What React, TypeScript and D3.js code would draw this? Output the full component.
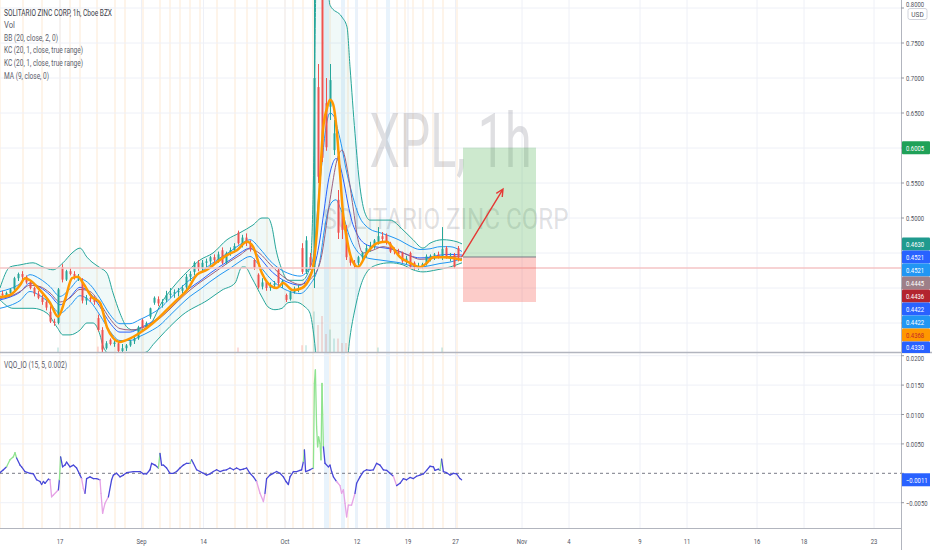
import { useEffect, useRef } from "react";
import * as d3 from "d3";

const W = 932;
const H = 550;
const AXIS_X = 901;
const PRICE_BOTTOM = 352;
const OSC_TOP = 353;
const OSC_BOTTOM = 528;
const FONT = "Roboto, 'Open Sans', sans-serif";

// one unit on the time scale = one hourly bar
// [bar, open, high, low, close]
const candles: [number, number, number, number, number][] = [
  [1, 0.392, 0.396, 0.388, 0.39], [3, 0.39, 0.395, 0.387, 0.393], [5, 0.393, 0.4, 0.39, 0.398],
  [7, 0.398, 0.416, 0.396, 0.414], [9, 0.414, 0.422, 0.41, 0.42], [11, 0.42, 0.424, 0.412, 0.416],
  [13, 0.416, 0.418, 0.406, 0.408], [15, 0.408, 0.41, 0.398, 0.4], [17, 0.4, 0.402, 0.388, 0.392],
  [19, 0.392, 0.396, 0.384, 0.386], [21, 0.386, 0.39, 0.376, 0.38], [23, 0.38, 0.382, 0.368, 0.372],
  [25, 0.366, 0.374, 0.35, 0.352], [27, 0.352, 0.356, 0.346, 0.35], [29, 0.35, 0.4, 0.348, 0.398],
  [31, 0.43, 0.434, 0.408, 0.412], [33, 0.412, 0.426, 0.41, 0.424], [35, 0.424, 0.428, 0.418, 0.42],
  [37, 0.42, 0.424, 0.412, 0.416], [39, 0.414, 0.42, 0.41, 0.414], [41, 0.409, 0.414, 0.378, 0.382],
  [43, 0.382, 0.39, 0.376, 0.386], [45, 0.386, 0.39, 0.38, 0.384], [47, 0.384, 0.388, 0.376, 0.38],
  [49, 0.357, 0.362, 0.338, 0.34], [51, 0.34, 0.344, 0.305, 0.312], [53, 0.314, 0.324, 0.312, 0.321],
  [55, 0.326, 0.328, 0.318, 0.32], [57, 0.32, 0.326, 0.316, 0.322], [59, 0.321, 0.324, 0.308, 0.31],
  [61, 0.31, 0.32, 0.306, 0.314], [63, 0.314, 0.32, 0.31, 0.318], [65, 0.318, 0.326, 0.316, 0.324],
  [67, 0.324, 0.33, 0.32, 0.328], [69, 0.328, 0.346, 0.326, 0.344], [71, 0.354, 0.356, 0.342, 0.344],
  [73, 0.344, 0.352, 0.342, 0.35], [75, 0.359, 0.372, 0.356, 0.371], [77, 0.379, 0.388, 0.376, 0.386],
  [79, 0.384, 0.388, 0.374, 0.378], [81, 0.378, 0.384, 0.372, 0.38], [83, 0.383, 0.396, 0.38, 0.39],
  [85, 0.39, 0.4, 0.386, 0.392], [87, 0.392, 0.398, 0.386, 0.394], [89, 0.394, 0.4, 0.388, 0.396],
  [91, 0.396, 0.404, 0.392, 0.4], [93, 0.401, 0.42, 0.398, 0.416], [95, 0.416, 0.424, 0.41, 0.42],
  [97, 0.423, 0.438, 0.418, 0.436], [99, 0.436, 0.44, 0.424, 0.428], [101, 0.428, 0.44, 0.424, 0.436],
  [103, 0.436, 0.442, 0.43, 0.438], [105, 0.438, 0.446, 0.432, 0.444], [107, 0.444, 0.448, 0.436, 0.44],
  [109, 0.44, 0.452, 0.436, 0.448], [111, 0.454, 0.458, 0.434, 0.436], [113, 0.436, 0.452, 0.434, 0.45],
  [115, 0.45, 0.458, 0.446, 0.454], [117, 0.454, 0.464, 0.45, 0.46], [119, 0.479, 0.482, 0.462, 0.464],
  [121, 0.462, 0.476, 0.458, 0.472], [123, 0.472, 0.478, 0.46, 0.464], [125, 0.464, 0.468, 0.452, 0.456],
  [127, 0.44, 0.442, 0.426, 0.429], [129, 0.419, 0.421, 0.399, 0.401], [131, 0.402, 0.414, 0.398, 0.408],
  [133, 0.409, 0.41, 0.396, 0.4], [135, 0.4, 0.408, 0.396, 0.404], [137, 0.404, 0.41, 0.4, 0.406],
  [139, 0.426, 0.428, 0.404, 0.407], [141, 0.407, 0.412, 0.4, 0.41], [143, 0.39, 0.392, 0.38, 0.383],
  [145, 0.384, 0.396, 0.382, 0.394], [147, 0.394, 0.402, 0.392, 0.398], [149, 0.398, 0.404, 0.394, 0.4],
  [151, 0.457, 0.464, 0.42, 0.423], [153, 0.423, 0.474, 0.42, 0.468], [155, 0.444, 0.45, 0.426, 0.432],
  [157, 0.43, 0.86, 0.4, 0.7], [159, 0.687, 0.72, 0.55, 0.559], [161, 0.82, 0.86, 0.58, 0.586],
  [163, 0.664, 0.7, 0.596, 0.601], [165, 0.659, 0.72, 0.64, 0.697], [167, 0.597, 0.64, 0.59, 0.621],
  [169, 0.526, 0.54, 0.47, 0.479], [171, 0.507, 0.52, 0.47, 0.483], [173, 0.479, 0.49, 0.44, 0.444],
  [175, 0.444, 0.45, 0.432, 0.436], [177, 0.436, 0.44, 0.428, 0.432], [179, 0.436, 0.446, 0.432, 0.444],
  [181, 0.444, 0.452, 0.44, 0.45], [183, 0.448, 0.462, 0.444, 0.457], [185, 0.457, 0.466, 0.452, 0.46],
  [187, 0.459, 0.47, 0.456, 0.468], [189, 0.466, 0.487, 0.462, 0.474], [191, 0.474, 0.48, 0.466, 0.47],
  [193, 0.476, 0.478, 0.462, 0.466], [195, 0.464, 0.466, 0.45, 0.452], [197, 0.454, 0.458, 0.448, 0.452],
  [199, 0.452, 0.456, 0.446, 0.448], [201, 0.45, 0.452, 0.436, 0.438], [203, 0.438, 0.446, 0.434, 0.442],
  [205, 0.45, 0.452, 0.428, 0.43], [207, 0.436, 0.438, 0.426, 0.43], [209, 0.43, 0.436, 0.426, 0.432],
  [211, 0.432, 0.436, 0.428, 0.434], [213, 0.434, 0.448, 0.432, 0.445], [215, 0.443, 0.448, 0.438, 0.446],
  [217, 0.446, 0.45, 0.44, 0.448], [219, 0.448, 0.452, 0.442, 0.446], [221, 0.443, 0.487, 0.44, 0.456],
  [223, 0.457, 0.46, 0.442, 0.443], [225, 0.443, 0.45, 0.438, 0.446], [227, 0.447, 0.45, 0.428, 0.43],
  [229, 0.457, 0.46, 0.438, 0.4436],
];

// [bar, volume (relative), direction]
const volume: [number, number, number][] = [
  [29, 1, 1], [49, 1.2, -1], [51, 1.5, -1], [119, 1, -1], [151, 1.5, -1], [153, 1.5, 1],
  [157, 9, 1], [159, 6, -1], [161, 8, -1], [163, 4, -1], [165, 5, 1], [167, 3, 1],
  [169, 3, -1], [171, 2, -1], [173, 2, -1], [189, 1, 1], [221, 1, 1],
];

const ma9: [number, number][] = [
  [0, 0.387], [5, 0.39], [10, 0.404], [12.5, 0.414], [15, 0.411], [20, 0.397], [25, 0.379], [29, 0.359],
  [32.5, 0.383], [36, 0.414], [39, 0.416], [41.5, 0.407], [46, 0.387], [50, 0.379], [53.5, 0.344],
  [56.5, 0.329], [60, 0.323], [63.5, 0.326], [70, 0.336], [76.5, 0.35], [83.5, 0.369], [88.5, 0.383],
  [93.5, 0.397], [98.5, 0.419], [103.5, 0.426], [108.5, 0.437], [113.5, 0.447], [118.5, 0.454],
  [123.5, 0.466], [126.5, 0.459], [131, 0.421], [135, 0.404], [138.5, 0.4], [141.5, 0.407],
  [146.5, 0.397], [151, 0.4], [155, 0.416], [156.5, 0.43], [158.5, 0.483], [160, 0.554], [161.5, 0.626],
  [163.5, 0.657], [165, 0.669], [166.5, 0.663], [168.5, 0.621], [170, 0.564], [171.5, 0.507],
  [173.5, 0.469], [176, 0.44], [179, 0.43], [183.5, 0.45], [188.5, 0.464], [193.5, 0.466], [196, 0.459],
  [200, 0.444], [205, 0.436], [210, 0.43], [213.5, 0.436], [216.5, 0.444], [221.5, 0.444], [226.5, 0.443],
  [231, 0.44],
];

const bbUpper: [number, number][] = [
  [0, 0.4], [5, 0.43], [10, 0.433], [16.5, 0.436], [21.5, 0.43], [26.5, 0.426], [31.5, 0.436], [36, 0.45],
  [40, 0.457], [43.5, 0.444], [46, 0.437], [50, 0.429], [53.5, 0.421], [56.5, 0.393], [60, 0.364],
  [63.5, 0.344], [66.5, 0.34], [70, 0.34], [73.5, 0.344], [76.5, 0.354], [80, 0.375], [86.5, 0.401],
  [93.5, 0.423], [100, 0.44], [106.5, 0.45], [113.5, 0.469], [120, 0.479], [126.5, 0.49], [131, 0.5],
  [134, 0.5], [136, 0.487], [138, 0.455], [141, 0.426], [144, 0.411], [151, 0.411], [155, 0.43],
  [157, 0.6], [158, 0.83], [163, 0.86], [165, 0.804], [171, 0.787], [173.5, 0.773], [175, 0.716],
  [177.5, 0.621], [180, 0.544], [182.5, 0.507], [185, 0.497], [195, 0.497], [201.5, 0.483],
  [206.5, 0.469], [211.5, 0.457], [215, 0.464], [221.5, 0.469], [228.5, 0.466], [231, 0.463],
];

const bbLower: [number, number][] = [
  [0, 0.383], [6.5, 0.371], [16.5, 0.371], [23.5, 0.364], [28.5, 0.344], [31.5, 0.333], [35, 0.333],
  [40, 0.34], [43.5, 0.35], [46.5, 0.35], [50, 0.333], [51.5, 0.317], [55, 0.305], [65, 0.303],
  [73.5, 0.309], [76.5, 0.319], [80, 0.33], [85, 0.345], [91, 0.361], [104, 0.383], [111, 0.397],
  [117.5, 0.407], [121, 0.43], [122.5, 0.43], [126, 0.414], [131, 0.387], [134, 0.373], [137.5, 0.369],
  [141, 0.371], [144, 0.379], [147.5, 0.38], [152.5, 0.373], [155, 0.364], [157, 0.33], [158.5, 0.29],
  [165, 0.2], [172, 0.25], [175, 0.33], [177.5, 0.37], [180, 0.4], [183.5, 0.423], [188.5, 0.433],
  [195, 0.436], [201.5, 0.433], [206.5, 0.426], [211.5, 0.423], [218.5, 0.426], [225, 0.43], [231, 0.436],
];

const bbBasis: [number, number][] = [
  [0, 0.385], [5, 0.388], [10, 0.395], [15, 0.404], [20, 0.402], [25, 0.393], [30, 0.38], [35, 0.386],
  [40, 0.398], [45, 0.395], [50, 0.378], [55, 0.356], [60, 0.342], [65, 0.34], [70, 0.342], [75, 0.348],
  [80, 0.357], [85, 0.37], [90, 0.384], [95, 0.397], [100, 0.408], [105, 0.418], [110, 0.428],
  [115, 0.438], [120, 0.447], [125, 0.456], [130, 0.449], [135, 0.434], [140, 0.42], [145, 0.41],
  [150, 0.405], [155, 0.412], [160, 0.436], [165, 0.526], [168.5, 0.583], [171, 0.597], [174, 0.564],
  [176.5, 0.516], [179, 0.469], [181.5, 0.45], [186.5, 0.454], [191.5, 0.459], [196, 0.456], [200, 0.452],
  [205, 0.446], [210, 0.441], [215, 0.442], [220, 0.444], [225, 0.445], [231, 0.4445],
];

const kcMid: [number, number][] = [
  [0, 0.383], [5, 0.387], [10, 0.394], [15, 0.407], [20, 0.401], [25, 0.39], [30, 0.376], [35, 0.387],
  [40, 0.401], [45, 0.393], [50, 0.373], [55, 0.35], [60, 0.337], [65, 0.337], [70, 0.343], [75, 0.35],
  [80, 0.359], [85, 0.373], [90, 0.387], [95, 0.4], [100, 0.41], [105, 0.421], [110, 0.431], [115, 0.44],
  [120, 0.45], [125, 0.457], [130, 0.443], [135, 0.426], [140, 0.414], [145, 0.407], [150, 0.404],
  [155, 0.42], [158, 0.44], [160, 0.47], [162, 0.51], [164, 0.55], [166, 0.575], [168, 0.585],
  [170, 0.575], [172, 0.55], [174, 0.52], [176, 0.495], [178, 0.48], [180, 0.47], [182.5, 0.463],
  [185, 0.46], [190, 0.458], [195, 0.456], [200, 0.452], [205, 0.446], [210, 0.443], [215, 0.444],
  [220, 0.447], [225, 0.448], [231, 0.447],
];

const kcUpper: [number, number][] = [
  [0, 0.395], [5, 0.399], [10, 0.406], [15, 0.419], [20, 0.413], [25, 0.402], [30, 0.388], [35, 0.399],
  [40, 0.413], [45, 0.405], [50, 0.385], [55, 0.362], [60, 0.349], [65, 0.349], [70, 0.355], [75, 0.362],
  [80, 0.371], [85, 0.385], [90, 0.399], [95, 0.412], [100, 0.422], [105, 0.433], [110, 0.443],
  [115, 0.452], [120, 0.462], [125, 0.469], [130, 0.456], [135, 0.439], [140, 0.427], [145, 0.42],
  [150, 0.417], [155, 0.43], [157, 0.45], [159, 0.52], [161, 0.58], [163, 0.63], [165, 0.65],
  [167, 0.645], [169, 0.625], [171, 0.6], [173, 0.57], [176, 0.535], [178, 0.515], [180, 0.5],
  [182.5, 0.49], [185, 0.484], [190, 0.479], [195, 0.474], [200, 0.468], [205, 0.46], [210, 0.455],
  [215, 0.456], [220, 0.459], [225, 0.459], [231, 0.4521],
];

const kcLower: [number, number][] = [
  [0, 0.371], [5, 0.375], [10, 0.382], [15, 0.395], [20, 0.389], [25, 0.378], [30, 0.364], [35, 0.375],
  [40, 0.389], [45, 0.381], [50, 0.361], [55, 0.338], [60, 0.325], [65, 0.325], [70, 0.331], [75, 0.338],
  [80, 0.347], [85, 0.361], [90, 0.375], [95, 0.388], [100, 0.398], [105, 0.409], [110, 0.419],
  [115, 0.428], [120, 0.438], [125, 0.445], [130, 0.431], [135, 0.414], [140, 0.402], [145, 0.395],
  [150, 0.392], [155, 0.405], [158, 0.42], [160, 0.44], [162, 0.48], [164, 0.51], [166, 0.523],
  [168, 0.526], [170, 0.515], [172, 0.5], [174, 0.48], [176, 0.465], [178, 0.455], [180, 0.448],
  [182.5, 0.444], [185, 0.442], [190, 0.44], [195, 0.438], [200, 0.436], [205, 0.432], [210, 0.43],
  [215, 0.432], [220, 0.435], [225, 0.437], [231, 0.4422],
];

// VQO_IO oscillator
const vqo: [number, number][] = [
  [0, 0.0001], [1.7, 0.0006], [3.3, 0.0011], [5, 0.0023], [6.7, 0.0028], [7.5, 0.0035], [8.3, 0.0026],
  [10, 0.0014], [10.8, 0.0011], [12.5, 0.0003], [15, 0], [16.7, -0.0001], [18.3, -0.0011], [20, -0.0014],
  [20.8, -0.0019], [21.7, -0.0014], [22.5, -0.0017], [24.2, -0.001], [25, -0.0011], [25.8, -0.004],
  [26.7, -0.0037], [29.2, -0.0028], [29.7, -0.0011], [30.3, 0.0028], [31.3, 0.0011], [32.5, 0.0014],
  [33.3, 0.0019], [35, 0.0011], [36.7, 0.0014], [38.3, 0.0009], [40, -0.0003], [40.8, -0.0009],
  [41.7, -0.0026], [42.5, -0.0034], [43.3, -0.0009], [45, -0.0006], [46.7, -0.0009], [48.3, -0.0009],
  [50, -0.0011], [50.5, -0.0034], [51.3, -0.0068], [52.5, -0.0051], [54.2, -0.004], [55.8, -0.0011],
  [56.7, -0.0003], [58.3, 0], [60, -0.0006], [61.7, -0.0003], [63.3, 0.0001], [66.7, 0.0003], [70, 0.0003],
  [71.7, -0.0001], [73.3, -0.0001], [75, 0.0006], [75.8, 0.0017], [77.5, 0.0014], [79.2, 0.0009],
  [80, 0.0034], [80.8, 0.0014], [81.7, 0.0014], [83.3, 0.0009], [85, 0], [86.7, 0], [88.3, 0.0003],
  [90, 0.0009], [91.7, 0.0014], [93.3, 0.0017], [95, 0.0017], [95.8, 0.0023], [96.7, 0.0017],
  [98.3, 0.0006], [100, 0.0003], [101.7, 0], [103.3, -0.0003], [105, -0.0001], [106.7, 0.0003],
  [108.3, 0.0006], [110, 0.0003], [111.7, 0.0005], [113.3, 0.0006], [115, 0.0009], [116.7, 0.0006],
  [118.3, 0.0009], [120, 0.0006], [121.7, 0.0007], [123.3, 0.0009], [125, 0], [126.7, -0.0006],
  [128.3, -0.0014], [130, -0.0034], [131.7, -0.0048], [132.5, -0.0034], [133.3, -0.0009], [135, -0.0003],
  [136.7, 0], [138.3, 0.0003], [140, 0], [141.7, -0.0006], [143, -0.0014], [144.2, -0.0019], [145, -0.0006],
  [146.7, 0.0003], [148.3, 0.0003], [150, 0.0005], [150.8, 0.0006], [151.7, 0.002], [152.2, 0.004],
  [152.8, 0.0003], [155, 0.0006], [156.7, 0.0009], [157.2, 0.0153], [157.7, 0.0176], [158.3, 0.0079],
  [158.8, 0.0045], [159.3, 0.0062], [160, 0.0051], [160.5, 0.0023], [161, 0.0153], [161.7, 0.0045],
  [162.5, 0.0017], [164.2, 0.0011], [165, 0.0014], [165.8, 0.0003], [166.7, -0.0006], [168.3, -0.0014],
  [170, -0.0021], [170.8, -0.0034], [171.7, -0.0028], [172.5, -0.0051], [173.3, -0.0074], [174.2, -0.0054],
  [175.8, -0.0054], [177.5, -0.0034], [178.3, -0.0017], [180, -0.0006], [181.7, 0.0003], [183.3, 0.0006],
  [185, 0.0005], [186.7, 0.0006], [188.3, 0.0017], [190, 0.0014], [191.7, 0.0006], [193.3, 0.0005],
  [195, 0], [196.7, -0.0005], [198.3, -0.0021], [200, -0.0017], [201.7, -0.0009], [203.3, -0.0011],
  [205, -0.0007], [206.7, -0.0009], [208.3, -0.0005], [210, -0.0003], [211.7, -0.0001], [213.3, 0.0005],
  [215, 0.0012], [216.7, 0.0011], [217.5, 0.0005], [219.2, 0.0007], [220, 0.0005], [220.8, 0.0024],
  [221.7, 0.0003], [223.3, 0.0001], [225, -0.0003], [226.7, 0], [228.3, -0.0001], [230, -0.0009],
  [230.8, -0.0011],
];
const VQO_THRESHOLD = 0.002;

// extended-hours shading and indicator highlight bands
const sessionBars = [
  0, 11.5, 21, 30, 35, 40, 48.5, 57.5, 62.5, 71.5, 80, 85, 90, 95, 100, 108.5, 117.5, 123.5, 128.5, 133.5,
  142.5, 146.5, 151.5, 156.5, 165, 174, 183.5, 188.5, 198.5, 202.5, 206.5, 211.5, 216.5, 221.5, 228.5,
];
const highlightBars: [number, number][] = [[162, 164.5], [170.5, 172.5], [177.5, 179], [193, 195]];

const timeTicks: [string, number][] = [
  ["17", 30], ["Sep", 70.75], ["14", 101.75], ["Oct", 142.5], ["12", 178.5], ["19", 204], ["27", 227.75],
  ["Nov", 261], ["4", 284.5], ["9", 320], ["11", 343.5], ["16", 378.5], ["18", 402], ["23", 437],
];
const priceTicks = [0.35, 0.4, 0.45, 0.5, 0.55, 0.6, 0.65, 0.7, 0.75, 0.8];
const oscTicks = [-0.005, 0, 0.005, 0.01, 0.015, 0.02];

// price-scale tags: [value, background, text colour]
const priceTags: [number, string, string][] = [
  [0.6005, "#20a158", "#ffffff"],
  [0.463, "#1f9a8e", "#ffffff"],
  [0.4521, "#2962ff", "#ffffff"],
  [0.4521, "#2196f3", "#ffffff"],
  [0.4445, "#9d7f88", "#ffffff"],
  [0.4436, "#b3242e", "#ffffff"],
  [0.4422, "#2962ff", "#ffffff"],
  [0.4422, "#2196f3", "#ffffff"],
  [0.4368, "#ff9800", "#c62828"],
  [0.433, "#2962ff", "#ffffff"],
];
const oscTag: [number, string] = [-0.0011, "#2962ff"];

const alertPrice = 0.4286;
const position = { startBar: 231.5, endBar: 268, entry: 0.4443, target: 0.6005, stop: 0.38 };
const arrow = { fromBar: 230.85, fromPrice: 0.4443, toBar: 251.5, toPrice: 0.5414 };

const legendLines: [string, number][] = [
  ["SOLITARIO ZINC CORP, 1h, Cboe BZX", 108],
  ["Vol", 11],
  ["BB (20, close, 2, 0)", 54],
  ["KC (20, 1, close, true range)", 79],
  ["KC (20, 1, close, true range)", 79],
  ["MA (9, close, 0)", 45],
];

const TAG_H = 13;

export default function App() {
  const ref = useRef<SVGSVGElement>(null);

  useEffect(() => {
    if (!ref.current) return;
    const svg = d3.select(ref.current);
    svg.selectAll("*").remove();

    const x = d3.scaleLinear().domain([0, 450.5]).range([0, AXIS_X]);
    const yP = d3.scaleLinear().domain([0.3, 0.8]).range([358, 8]);
    const yO = d3.scaleLinear().domain([0, 0.005]).range([473.3, 443.9]);
    const yV = d3.scaleLinear().domain([0, 10]).range([PRICE_BOTTOM, PRICE_BOTTOM - 45]);

    const defs = svg.append("defs");
    defs.append("clipPath").attr("id", "clip-price").append("rect")
      .attr("x", 0).attr("y", 0).attr("width", AXIS_X).attr("height", PRICE_BOTTOM);
    defs.append("clipPath").attr("id", "clip-osc").append("rect")
      .attr("x", 0).attr("y", OSC_TOP).attr("width", AXIS_X).attr("height", OSC_BOTTOM - OSC_TOP);
    defs.append("clipPath").attr("id", "clip-tags").append("rect")
      .attr("x", AXIS_X).attr("y", 0).attr("width", W - AXIS_X).attr("height", PRICE_BOTTOM + 1);

    svg.append("rect").attr("width", W).attr("height", H).attr("fill", "#ffffff");

    // background stripes
    const bg = svg.append("g");
    bg.append("g").selectAll("rect").data(sessionBars).join("rect")
      .attr("x", (d) => x(d) - 1).attr("width", 2).attr("y", 0).attr("height", OSC_BOTTOM)
      .attr("fill", "#fde3c8").attr("opacity", 0.4);
    bg.append("g").selectAll("rect").data(highlightBars).join("rect")
      .attr("x", (d) => x(d[0])).attr("width", (d) => x(d[1]) - x(d[0])).attr("y", 0).attr("height", OSC_BOTTOM)
      .attr("fill", "#dcecfa").attr("opacity", 0.65);

    // grid
    const grid = svg.append("g").attr("stroke", "#eef0f7").attr("stroke-width", 1);
    grid.append("g").selectAll("line").data(timeTicks).join("line")
      .attr("x1", (d) => x(d[1])).attr("x2", (d) => x(d[1])).attr("y1", 0).attr("y2", OSC_BOTTOM);
    grid.append("g").selectAll("line").data(priceTicks).join("line")
      .attr("x1", 0).attr("x2", AXIS_X).attr("y1", (d) => yP(d)).attr("y2", (d) => yP(d));
    grid.append("g").selectAll("line").data(oscTicks.filter((d) => d !== 0)).join("line")
      .attr("x1", 0).attr("x2", AXIS_X).attr("y1", (d) => yO(d)).attr("y2", (d) => yO(d));

    // price pane
    const pp = svg.append("g").attr("clip-path", "url(#clip-price)");

    pp.append("text").attr("x", AXIS_X / 2).attr("y", 167).attr("text-anchor", "middle")
      .attr("font-family", FONT).attr("font-size", 76).attr("fill", "#787b86").attr("fill-opacity", 0.24)
      .attr("textLength", 162).attr("lengthAdjust", "spacingAndGlyphs").text("XPL, 1h");
    pp.append("text").attr("x", AXIS_X / 2 - 5).attr("y", 229).attr("text-anchor", "middle")
      .attr("font-family", FONT).attr("font-size", 30).attr("fill", "#787b86").attr("fill-opacity", 0.24)
      .attr("textLength", 246).attr("lengthAdjust", "spacingAndGlyphs").text("SOLITARIO ZINC CORP");

    pp.append("g").selectAll("rect").data(volume).join("rect")
      .attr("x", (d) => x(d[0]) - 1).attr("width", 2)
      .attr("y", (d) => yV(d[1])).attr("height", (d) => PRICE_BOTTOM - yV(d[1]))
      .attr("fill", (d) => (d[2] > 0 ? "#26a69a" : "#ef5350")).attr("opacity", 0.2);

    const line = d3.line<[number, number]>().x((d) => x(d[0])).y((d) => yP(d[1])).curve(d3.curveMonotoneX);
    const fillPath = line(bbUpper)! + line(bbLower.slice().reverse())!.replace(/^M/, "L") + "Z";
    pp.append("path").attr("d", fillPath).attr("fill", "#26a69a").attr("fill-opacity", 0.07);

    const series: [[number, number][], string, number][] = [
      [bbUpper, "#26a69a", 1],
      [bbLower, "#26a69a", 1],
      [kcUpper, "#2196f3", 1],
      [kcLower, "#2196f3", 1],
      [kcMid, "#2962ff", 1],
      [bbBasis, "#9c5f7e", 1],
    ];
    series.forEach(([data, color, w]) => {
      pp.append("path").datum(data).attr("d", line).attr("fill", "none")
        .attr("stroke", color).attr("stroke-width", w);
    });

    // candles
    const cg = pp.append("g");
    const up = (d: (typeof candles)[0]) => d[4] >= d[1];
    cg.selectAll("line").data(candles).join("line")
      .attr("x1", (d) => x(d[0]) + 0.5).attr("x2", (d) => x(d[0]) + 0.5)
      .attr("y1", (d) => yP(d[2])).attr("y2", (d) => yP(d[3]))
      .attr("stroke", (d) => (up(d) ? "#26a69a" : "#ef5350")).attr("stroke-width", 1);
    cg.selectAll("rect").data(candles).join("rect")
      .attr("x", (d) => x(d[0]) - 0.5).attr("width", 2)
      .attr("y", (d) => yP(Math.max(d[1], d[4])))
      .attr("height", (d) => Math.max(1, Math.abs(yP(d[1]) - yP(d[4]))))
      .attr("fill", (d) => (up(d) ? "#26a69a" : "#ef5350"));

    pp.append("path").datum(ma9).attr("d", line).attr("fill", "none")
      .attr("stroke", "#ff9800").attr("stroke-width", 2.5).attr("stroke-linejoin", "round");

    pp.append("line").attr("x1", 0).attr("x2", AXIS_X)
      .attr("y1", yP(alertPrice)).attr("y2", yP(alertPrice))
      .attr("stroke", "#f5c4c6").attr("stroke-width", 1.5);

    // long position tool
    const px0 = x(position.startBar);
    const px1 = x(position.endBar);
    pp.append("rect").attr("x", px0).attr("width", px1 - px0)
      .attr("y", yP(position.target)).attr("height", yP(position.entry) - yP(position.target))
      .attr("fill", "rgb(76,175,80)").attr("fill-opacity", 0.28);
    pp.append("rect").attr("x", px0).attr("width", px1 - px0)
      .attr("y", yP(position.entry)).attr("height", yP(position.stop) - yP(position.entry))
      .attr("fill", "rgb(244,67,54)").attr("fill-opacity", 0.27);
    pp.append("line").attr("x1", px0).attr("x2", px1)
      .attr("y1", yP(position.entry)).attr("y2", yP(position.entry))
      .attr("stroke", "#787b86").attr("stroke-width", 1);

    const ax0 = x(arrow.fromBar), ay0 = yP(arrow.fromPrice);
    const ax1 = x(arrow.toBar), ay1 = yP(arrow.toPrice);
    const ang = Math.atan2(ay1 - ay0, ax1 - ax0);
    const head = 8;
    pp.append("path")
      .attr("d", `M${ax0},${ay0}L${ax1},${ay1}M${ax1 - head * Math.cos(ang - 0.45)},${ay1 - head * Math.sin(ang - 0.45)}L${ax1},${ay1}L${ax1 - head * Math.cos(ang + 0.45)},${ay1 - head * Math.sin(ang + 0.45)}`)
      .attr("fill", "none").attr("stroke", "#e53935").attr("stroke-width", 1.4);

    // oscillator pane
    const op = svg.append("g").attr("clip-path", "url(#clip-osc)");
    op.append("line").attr("x1", 0).attr("x2", AXIS_X).attr("y1", yO(0)).attr("y2", yO(0))
      .attr("stroke", "#787b86").attr("stroke-dasharray", "3,3").attr("stroke-width", 1);
    const segColor = (v: number) => (v > VQO_THRESHOLD ? "#8fe38f" : v < -VQO_THRESHOLD ? "#e6a3e6" : "#4848d8");
    op.append("g").selectAll("line").data(d3.pairs(vqo)).join("line")
      .attr("x1", (d) => x(d[0][0])).attr("y1", (d) => yO(d[0][1]))
      .attr("x2", (d) => x(d[1][0])).attr("y2", (d) => yO(d[1][1]))
      .attr("stroke", (d) => segColor(d[1][1])).attr("stroke-width", 1.3).attr("stroke-linecap", "round");

    // separators
    const sep = svg.append("g").attr("stroke", "#b2b5be");
    sep.append("line").attr("x1", 0).attr("x2", W).attr("y1", PRICE_BOTTOM + 0.5).attr("y2", PRICE_BOTTOM + 0.5).attr("stroke-width", 1.5);
    sep.append("line").attr("x1", 0).attr("x2", AXIS_X).attr("y1", OSC_BOTTOM + 0.5).attr("y2", OSC_BOTTOM + 0.5);
    sep.append("line").attr("x1", AXIS_X + 0.5).attr("x2", AXIS_X + 0.5).attr("y1", 0).attr("y2", H);

    // axis labels (narrow face like the original)
    const label = (g: d3.Selection<SVGGElement, unknown, null, undefined>, tx: number, ty: number,
      text: string, anchor: string, fill: string) =>
      g.append("text").attr("transform", `translate(${tx},${ty}) scale(0.74,1)`)
        .attr("text-anchor", anchor).attr("font-family", FONT).attr("font-size", 8).attr("fill", fill).text(text);

    // price tags, stacked the way the price scale does it
    const tagCenters: number[] = [];
    let prevY = -Infinity;
    priceTags.forEach(([v]) => {
      const cy = Math.max(yP(v), prevY + TAG_H);
      prevY = cy;
      tagCenters.push(cy);
    });
    const oy = yO(oscTag[0]);
    const underPriceTag = (py: number) => tagCenters.some((c) => Math.abs(c - py) < TAG_H - 2);
    const underOscTag = (py: number) => Math.abs(oy - py) < TAG_H - 2;

    const fmt = d3.format(".4f");
    const ax = svg.append("g");
    priceTicks.forEach((v) => {
      ax.append("line").attr("x1", AXIS_X).attr("x2", AXIS_X + 3).attr("y1", yP(v)).attr("y2", yP(v)).attr("stroke", "#9598a1");
      // the top label sits half-hidden at the very top edge, above the currency box
      const ty = yP(v) < 10 ? 6.5 : yP(v) + 3;
      if (!underPriceTag(yP(v))) label(ax, AXIS_X + 5, ty, fmt(v), "start", "#50535e");
    });
    oscTicks.forEach((v) => {
      ax.append("line").attr("x1", AXIS_X).attr("x2", AXIS_X + 3).attr("y1", yO(v)).attr("y2", yO(v)).attr("stroke", "#9598a1");
      // keep the topmost oscillator label just below the pane separator
      const ty = Math.max(yO(v) + 3, OSC_TOP + 7.5);
      if (!underOscTag(yO(v))) label(ax, AXIS_X + 5, ty, fmt(v), "start", "#50535e");
    });
    timeTicks.forEach(([t, b]) => label(ax, x(b), 544, t, "middle", "#50535e"));

    const tg = svg.append("g").attr("clip-path", "url(#clip-tags)");
    priceTags.forEach(([v, bgc, fc], i) => {
      const cy = tagCenters[i];
      tg.append("rect").attr("x", AXIS_X + 1).attr("y", cy - TAG_H / 2).attr("width", 28).attr("height", TAG_H)
        .attr("fill", bgc).attr("rx", 1);
      label(tg as any, AXIS_X + 5, Math.min(cy + 3, PRICE_BOTTOM - 2), fmt(v), "start", fc);
    });
    ax.append("rect").attr("x", AXIS_X + 1).attr("y", oy - TAG_H / 2).attr("width", 28).attr("height", TAG_H).attr("fill", oscTag[1]);
    label(ax, AXIS_X + 5, oy + 3, fmt(oscTag[0]), "start", "#ffffff");

    // currency box
    ax.append("rect").attr("x", AXIS_X + 7).attr("y", 8.5).attr("width", 19).attr("height", 11).attr("rx", 2)
      .attr("fill", "#ffffff").attr("stroke", "#d1d4dc");
    ax.append("text").attr("x", AXIS_X + 16.5).attr("y", 16.5).attr("text-anchor", "middle")
      .attr("font-family", FONT).attr("font-size", 6.5).attr("fill", "#50535e").text("USD");

    // legends
    const lg = svg.append("g").attr("font-family", FONT).attr("font-size", 9);
    legendLines.forEach(([t, w], i) => {
      lg.append("text").attr("x", 4).attr("y", 15.5 + i * 12.6).attr("fill", i === 0 ? "#3d4049" : "#5d606b")
        .attr("textLength", w).attr("lengthAdjust", "spacingAndGlyphs").text(t);
    });
    lg.append("text").attr("x", 4).attr("y", 368).attr("fill", "#5d606b")
      .attr("textLength", 63).attr("lengthAdjust", "spacingAndGlyphs").text("VQO_IO (15, 5, 0.002)");
  }, []);

  return (
    <div style={{ position: "absolute", left: 0, top: 0 }}>
      <svg ref={ref} width={W} height={H} style={{ display: "block" }} />
    </div>
  );
}
